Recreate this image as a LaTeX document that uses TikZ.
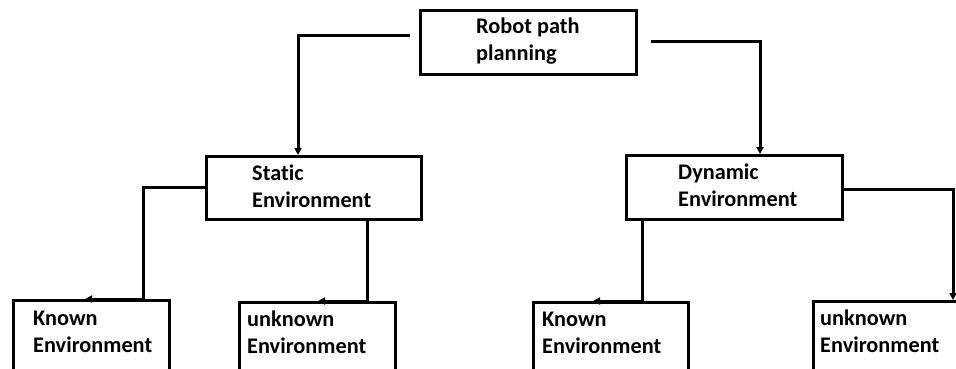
\documentclass[tikz,border=0pt]{standalone}
\usepackage{fontspec}
\setmainfont{Carlito}[Ligatures=NoCommon]
\usetikzlibrary{arrows.meta}
\begin{document}
\begin{tikzpicture}[x=1pt,y=-1pt,
  box/.style={draw=black,line width=2.8pt,rectangle,inner sep=0pt,anchor=north west},
  label/.style={anchor=north west,align=left,inner sep=0pt,font=\fontsize{22.3}{26.5}\selectfont\bfseries},
  link/.style={draw=black,line width=3pt,-{Triangle[length=7pt,width=7pt]}}]
\clip (0,0) rectangle (956,368);
\fill[white] (0,0) rectangle (956,368);

% boxes
\node[box,minimum width=216pt,minimum height=64pt] (top) at (419,9) {};
\node[box,minimum width=215pt,minimum height=63pt] (static) at (205,155) {};
\node[box,minimum width=216pt,minimum height=64pt] (dynamic) at (625,154) {};
\node[box,minimum width=156pt,minimum height=100pt] (known1) at (12,299) {};
\node[box,minimum width=156pt,minimum height=100pt] (unknown1) at (238,301) {};
\node[box,minimum width=155pt,minimum height=100pt] (known2) at (532,301) {};
\node[box,minimum width=200pt,minimum height=100pt] (unknown2) at (812,300) {};

% texts
\node[label] (ttop) at (476,18) {Robot path\\planning};
\node[label] (tstatic) at (252,165) {Static\\Environment};
\node[label] (tdynamic) at (678,164) {Dynamic\\Environment};
\node[label] (tknown1) at (33,311) {Known\\Environment};
\node[label] (tunknown1) at (247,311) {unknown\\Environment};
\node[label] (tknown2) at (542,312) {Known\\Environment};
\node[label] (tunknown2) at (820,310) {unknown\\Environment};

% connectors
\coordinate (sL) at ([xshift=-9pt,yshift=7pt]top.west);
\coordinate (sR) at ([xshift=13pt,yshift=1pt]top.east);
\draw[link] (sL) -| ([xshift=93pt]static.north west);
\draw[link] (sR) -| ([xshift=135pt]dynamic.north west);
\draw[link] (static.west) -| ([xshift=131pt]known1.north west) -- ([xshift=73pt]known1.north west);
\draw[link] ([xshift=162pt]static.south west) -- ([xshift=129pt]unknown1.north west) -- ([xshift=80pt]unknown1.north west);
\draw[link] ([xshift=17pt]dynamic.south west) -- ([xshift=110pt]known2.north west) -- ([xshift=61pt]known2.north west);
\draw[link] ([yshift=-2pt]dynamic.east) -| ([xshift=141pt]unknown2.north west);
\end{tikzpicture}
\end{document}
